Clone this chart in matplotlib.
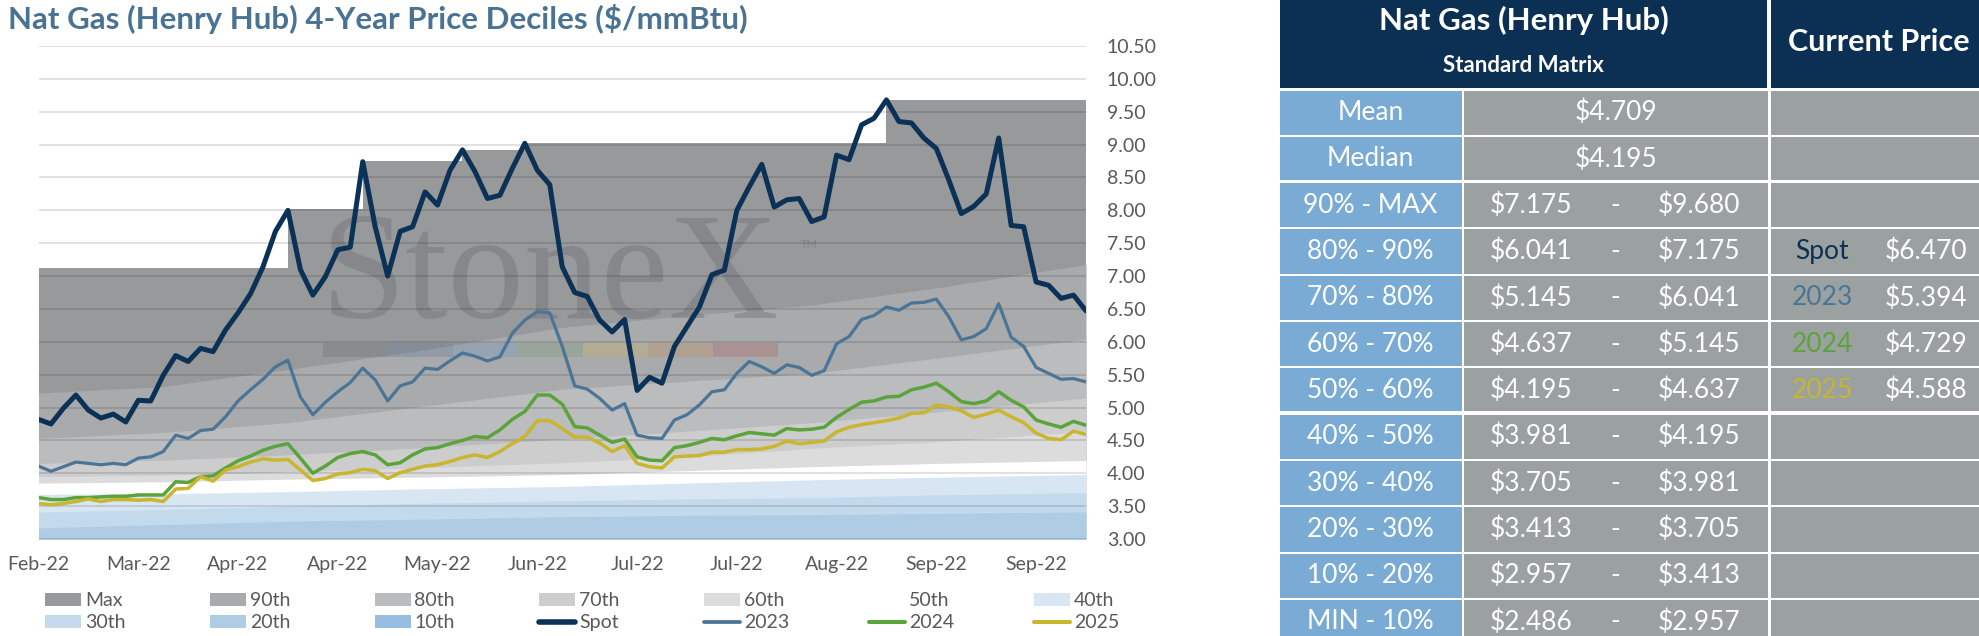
import matplotlib
matplotlib.use('Agg')
import matplotlib.pyplot as plt
from matplotlib.patches import Rectangle, Patch
from matplotlib.lines import Line2D
from matplotlib.ticker import FormatStrFormatter
import numpy as np

plt.rcParams['font.family'] = ['Lato', 'DejaVu Sans']

# ---------------- data ----------------
x_labels = ['Feb-22', 'Mar-22', 'Apr-22', 'Apr-22', 'May-22', 'Jun-22',
            'Jul-22', 'Jul-22', 'Aug-22', 'Sep-22', 'Sep-22']

spot = [4.82, 4.75, 4.99, 5.19, 4.96, 4.84, 4.90, 4.78, 5.11, 5.10,
        5.49, 5.79, 5.70, 5.90, 5.85, 6.18, 6.44, 6.73, 7.14, 7.68,
        8.00, 7.10, 6.71, 6.99, 7.40, 7.44, 8.74, 7.75, 7.00, 7.68,
        7.75, 8.28, 8.08, 8.61, 8.92, 8.59, 8.18, 8.23, 8.64, 9.02,
        8.61, 8.39, 7.14, 6.75, 6.69, 6.33, 6.15, 6.34, 5.26, 5.46,
        5.37, 5.93, 6.23, 6.53, 7.02, 7.09, 8.00, 8.36, 8.70, 8.05,
        8.16, 8.18, 7.83, 7.90, 8.84, 8.77, 9.30, 9.40, 9.68, 9.35,
        9.33, 9.10, 8.94, 8.46, 7.95, 8.06, 8.25, 9.10, 7.77, 7.75,
        6.91, 6.86, 6.66, 6.71, 6.47]

y2023 = [4.11, 4.03, 4.10, 4.17, 4.15, 4.13, 4.15, 4.13, 4.23, 4.25,
         4.33, 4.58, 4.53, 4.65, 4.67, 4.86, 5.10, 5.27, 5.43, 5.62,
         5.72, 5.16, 4.89, 5.08, 5.24, 5.38, 5.60, 5.42, 5.10, 5.33,
         5.39, 5.60, 5.58, 5.71, 5.83, 5.78, 5.71, 5.77, 6.13, 6.33,
         6.46, 6.44, 5.93, 5.33, 5.28, 5.14, 4.96, 5.06, 4.58, 4.54,
         4.53, 4.81, 4.89, 5.04, 5.24, 5.27, 5.52, 5.70, 5.62, 5.52,
         5.65, 5.61, 5.49, 5.56, 5.97, 6.08, 6.34, 6.40, 6.53, 6.48,
         6.59, 6.60, 6.65, 6.38, 6.03, 6.08, 6.20, 6.58, 6.07, 5.93,
         5.61, 5.52, 5.43, 5.44, 5.39]

y2024 = [3.63, 3.60, 3.60, 3.63, 3.63, 3.64, 3.65, 3.65, 3.67, 3.67,
         3.67, 3.87, 3.86, 3.95, 3.96, 4.08, 4.19, 4.26, 4.35, 4.41,
         4.45, 4.23, 4.00, 4.11, 4.24, 4.30, 4.33, 4.28, 4.13, 4.16,
         4.28, 4.37, 4.39, 4.45, 4.50, 4.56, 4.54, 4.66, 4.82, 4.94,
         5.19, 5.19, 5.05, 4.71, 4.69, 4.58, 4.47, 4.52, 4.25, 4.20,
         4.19, 4.39, 4.42, 4.47, 4.53, 4.51, 4.57, 4.62, 4.60, 4.58,
         4.68, 4.66, 4.67, 4.70, 4.85, 4.97, 5.08, 5.10, 5.16, 5.17,
         5.27, 5.31, 5.37, 5.24, 5.09, 5.06, 5.10, 5.24, 5.11, 5.01,
         4.81, 4.75, 4.70, 4.79, 4.73]

y2025 = [3.54, 3.52, 3.54, 3.57, 3.61, 3.57, 3.60, 3.60, 3.59, 3.60,
         3.57, 3.76, 3.77, 3.95, 3.88, 4.05, 4.10, 4.17, 4.22, 4.20,
         4.21, 4.05, 3.89, 3.92, 3.99, 4.01, 4.06, 4.04, 3.92, 4.01,
         4.06, 4.11, 4.13, 4.18, 4.24, 4.28, 4.24, 4.33, 4.45, 4.56,
         4.80, 4.80, 4.68, 4.55, 4.55, 4.46, 4.33, 4.42, 4.15, 4.10,
         4.08, 4.25, 4.26, 4.27, 4.32, 4.32, 4.36, 4.36, 4.37, 4.41,
         4.49, 4.45, 4.47, 4.49, 4.63, 4.70, 4.74, 4.77, 4.80, 4.84,
         4.91, 4.92, 5.04, 5.01, 4.95, 4.85, 4.90, 4.96, 4.86, 4.77,
         4.61, 4.53, 4.51, 4.64, 4.59]

# Max band: step levels and the sample index where each level starts
max_start = [0, 20, 26, 34, 39, 68]
max_level = [7.12, 8.02, 8.75, 8.92, 9.02, 9.68]

# percentile bands, read at these sample indices
band_k = [0, 10, 20, 30, 42, 52, 62, 72, 84]
p90 = [5.22, 5.32, 5.58, 5.85, 6.22, 6.40, 6.56, 6.82, 7.175]
p80 = [4.53, 4.62, 4.77, 5.00, 5.28, 5.40, 5.52, 5.75, 6.041]
p70 = [4.15, 4.20, 4.28, 4.38, 4.52, 4.64, 4.77, 4.93, 5.145]
p60 = [3.95, 3.97, 4.02, 4.08, 4.16, 4.25, 4.38, 4.48, 4.637]
p50 = [3.85, 3.87, 3.91, 3.94, 3.98, 4.04, 4.10, 4.15, 4.195]
p40 = [3.68, 3.69, 3.72, 3.76, 3.80, 3.85, 3.90, 3.94, 3.981]
p30 = [3.41, 3.45, 3.50, 3.54, 3.58, 3.61, 3.63, 3.67, 3.705]
p20 = [3.17, 3.22, 3.27, 3.30, 3.34, 3.36, 3.37, 3.39, 3.413]
p10 = [2.70, 2.75, 2.80, 2.84, 2.88, 2.91, 2.93, 2.95, 2.957]

# table
row_labels = ['Mean', 'Median', '90% - MAX', '80% - 90%', '70% - 80%', '60% - 70%',
              '50% - 60%', '40% - 50%', '30% - 40%', '20% - 30%', '10% - 20%', 'MIN - 10%']
mean_val = 4.709
median_val = 4.195
range_low = [7.175, 6.041, 5.145, 4.637, 4.195, 3.981, 3.705, 3.413, 2.957, 2.486]
range_high = [9.680, 7.175, 6.041, 5.145, 4.637, 4.195, 3.981, 3.705, 3.413, 2.957]
current_names = ['Spot', '2023', '2024', '2025']
current_vals = [6.470, 5.394, 4.729, 4.588]

# ---------------- styles ----------------
band_names = ['Max', '90th', '80th', '70th', '60th', '50th', '40th', '30th', '20th', '10th']
band_colors = ['#98999b', '#a9aaac', '#bbbcbe', '#cdcdcd', '#dcdcdc', '#ffffff',
               '#d8e5f2', '#c3daed', '#afcce5', '#97bde0']
line_names = ['Spot', '2023', '2024', '2025']
line_colors = ['#0b3157', '#4a7596', '#5ba33b', '#c9b52e']
line_widths = [3.6, 2.3, 2.5, 2.5]
navy = '#0c2f54'
tick_color = '#595959'
body_fs = 19

W, H = 1979, 636
fig = plt.figure(figsize=(W / 100, H / 100), dpi=100)

# ---------------- table (pixel coordinates) ----------------
axt = fig.add_axes([0, 0, 1, 1], zorder=0)
axt.set_xlim(0, W)
axt.set_ylim(H, 0)
axt.axis('off')

c0, c1, c2, c3 = 1280, 1463, 1770, W
axt.add_patch(Rectangle((c0, 0), 1767 - c0, 88, color=navy, lw=0))
axt.add_patch(Rectangle((c2 + 1, 0), c3 - c2 - 1, 88, color=navy, lw=0))
axt.text((c0 + 1767) / 2, 20, 'Nat Gas (Henry Hub)', color='white', fontsize=22.5,
         fontweight='bold', ha='center', va='center')
axt.text((c0 + 1767) / 2, 65, 'Standard Matrix', color='white', fontsize=16,
         fontweight='bold', ha='center', va='center')
axt.text((c2 + c3) / 2 + 4, 42, 'Current Price', color='white', fontsize=22,
         fontweight='bold', ha='center', va='center')

top0, rh = 90.5, 46.3
blue_cell = '#79abd5'
gray_cell = '#9aa1a0'
name_colors = [navy, '#4a7596', '#5ba33b', '#c9b52e']
for i, lab in enumerate(row_labels):
    t = top0 + i * rh
    hgt = rh - 2
    axt.add_patch(Rectangle((c0, t), c1 - c0 - 1, hgt, color=blue_cell, lw=0))
    axt.add_patch(Rectangle((c1 + 1, t), c2 - c1 - 3, hgt, color=gray_cell, lw=0))
    axt.add_patch(Rectangle((c2 + 1, t), c3 - c2 - 1, hgt, color=gray_cell, lw=0))
    yc = t + hgt / 2
    axt.text((c0 + c1) / 2 - 1, yc, lab, color='white', fontsize=body_fs, ha='center', va='center')
    if i == 0:
        axt.text(1616, yc, f'${mean_val:.3f}', color='white', fontsize=body_fs, ha='center', va='center')
    elif i == 1:
        axt.text(1616, yc, f'${median_val:.3f}', color='white', fontsize=body_fs, ha='center', va='center')
    else:
        j = i - 2
        axt.text(1531, yc, f'${range_low[j]:.3f}', color='white', fontsize=body_fs, ha='center', va='center')
        axt.text(1615, yc, '-', color='white', fontsize=body_fs, ha='center', va='center')
        axt.text(1699, yc, f'${range_high[j]:.3f}', color='white', fontsize=body_fs, ha='center', va='center')
    if 3 <= i <= 6:
        j = i - 3
        axt.text(1822, yc, current_names[j], color=name_colors[j], fontsize=body_fs,
                 ha='center', va='center')
        axt.text(1926, yc, f'${current_vals[j]:.3f}', color='white', fontsize=body_fs,
                 ha='center', va='center')
# thicker separators
for i in (2, 7):
    axt.add_patch(Rectangle((c0, top0 + i * rh - 3.5), c3 - c0, 3.5, color='white', lw=0))

# ---------------- chart ----------------
ax = fig.add_axes([38.5 / W, 1 - 539 / H, 1047.5 / W, 493 / H], zorder=1)
n = len(spot)
x = np.arange(n)
ax.set_xlim(0, n - 1)
ax.set_ylim(3.0, 10.5)
ax.patch.set_alpha(0)

mx = max_start + [n - 1]
my = max_level + [max_level[-1]]
ax.fill_between(mx, 0, my, step='post', color=band_colors[0], lw=0, zorder=0.5)
for i, vals in enumerate([p90, p80, p70, p60, p50, p40, p30, p20, p10]):
    ax.fill_between(band_k, 0, vals, color=band_colors[i + 1], lw=0, zorder=0.51 + i * 0.01)

# watermark
ax.text(0.488, 0.448, 'StoneX', transform=ax.transAxes, ha='center', va='baseline',
        fontsize=110, family='Liberation Serif', color='#6b7075', alpha=0.42, zorder=2)
ax.text(0.728, 0.598, 'TM', transform=ax.transAxes, ha='left', va='center',
        fontsize=8, color='#6b7075', alpha=0.45, zorder=2)
bar_cols = ['#5f6368', '#4f6f93', '#5f8fbf', '#6a9a6a', '#c9b44a', '#c98a4a', '#b04848']
bx0, bx1 = (323 - 38.5) / 1047.5, (778 - 38.5) / 1047.5
bw = (bx1 - bx0) / len(bar_cols)
for i, c in enumerate(bar_cols):
    ax.add_patch(Rectangle((bx0 + i * bw, (539 - 357) / 493), bw, 14 / 493,
                           transform=ax.transAxes, color=c, alpha=0.25, lw=0, zorder=2))

series = [spot, y2023, y2024, y2025]
for i, s in enumerate(series):
    ax.plot(x, s, color=line_colors[i], lw=line_widths[i], solid_joinstyle='round',
            solid_capstyle='round', zorder=5 + i)

ax.set_yticks(np.arange(3.0, 10.51, 0.5))
ax.yaxis.set_major_formatter(FormatStrFormatter('%.2f'))
ax.yaxis.tick_right()
ax.set_xticks(np.arange(0, n, 8)[:len(x_labels)])
ax.set_xticklabels(x_labels)
ax.tick_params(axis='y', length=0, pad=15, labelsize=14, labelcolor=tick_color)
ax.tick_params(axis='x', length=0, pad=12, labelsize=14, labelcolor=tick_color)
ax.grid(axis='y', color='black', alpha=0.14, lw=1.2)
ax.set_axisbelow(False)
for sp in ax.spines.values():
    sp.set_visible(False)

fig.text(8 / W, 1 - 19 / H, 'Nat Gas (Henry Hub) 4-Year Price Deciles ($/mmBtu)',
         fontsize=22.5, fontweight='bold', color='#4a7292', ha='left', va='center')

# ---------------- legend (7 columns x 2 rows) ----------------
row1 = [Patch(facecolor=band_colors[i], edgecolor='none') for i in range(7)]
row1_lab = band_names[:7]
row2 = [Patch(facecolor=band_colors[i], edgecolor='none') for i in range(7, 10)]
row2 += [Line2D([0], [0], color=line_colors[i], lw=line_widths[i] + 0.4,
                solid_capstyle='round') for i in range(4)]
row2_lab = band_names[7:] + line_names
for j in range(7):
    leg = fig.legend([row1[j], row2[j]], [row1_lab[j], row2_lab[j]],
                     loc='upper left', bbox_to_anchor=((45 + 164.8 * j) / W, 1 - 592 / H),
                     frameon=False, fontsize=14, handlelength=1.85, handleheight=0.65,
                     handletextpad=0.2, labelspacing=0.28, borderpad=0, borderaxespad=0)
    for t in leg.get_texts():
        t.set_color(tick_color)

fig.savefig('out.png', dpi=100)
